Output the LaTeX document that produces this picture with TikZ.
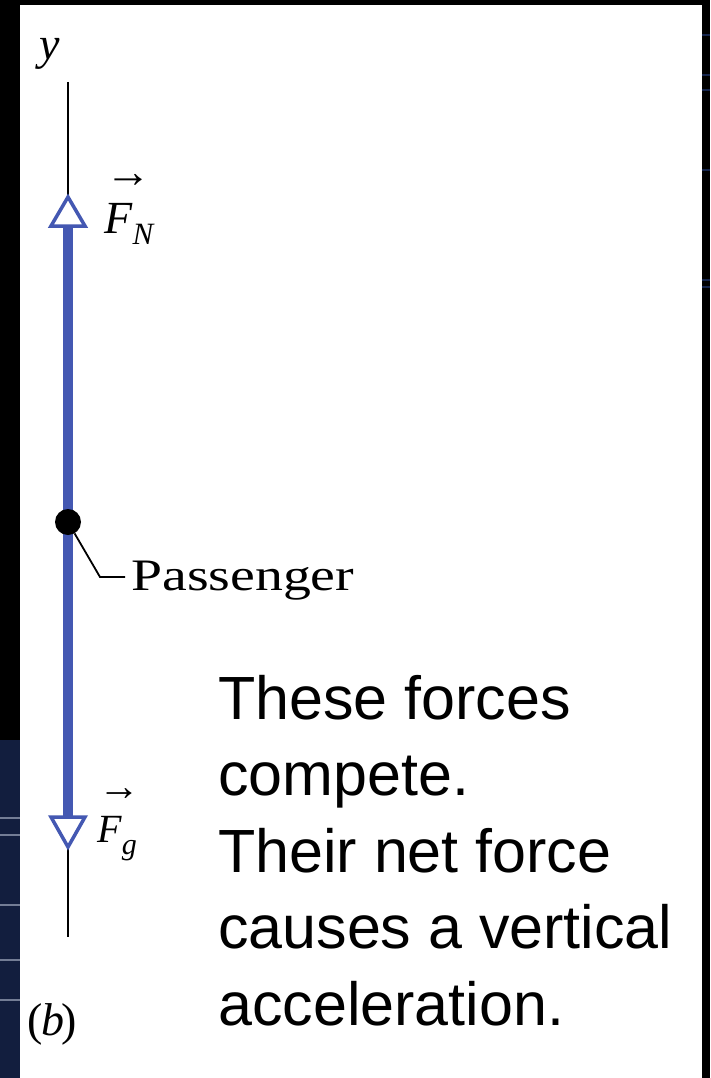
\documentclass[tikz,border=0pt]{standalone}
\usepackage{fontspec}
\setmainfont{Liberation Serif}
\newfontfamily\helv{Liberation Sans}
\definecolor{fblue}{RGB}{68,88,178}
\definecolor{navy}{RGB}{22,38,78}
\tikzset{
  axisline/.style={line width=2pt, black},
  shaft/.style={line width=10pt, fblue},
  headtri/.style={line width=3.5pt, fblue, fill=white, line join=miter},
  leader/.style={line width=1.8pt, black, line join=miter},
  serlab/.style={inner sep=0pt, font=\fontsize{45}{50}\selectfont},
  caption/.style={inner sep=0pt, align=left, font=\helv\fontsize{61}{76.5}\selectfont}
}
\begin{document}
\begin{tikzpicture}[x=1pt,y=-1pt]
\useasboundingbox (0,0) rectangle (710,1078);
% background
\fill[black] (0,0) rectangle (710,1078);
\fill[navy!80!black] (0,740) rectangle (20,1078);
\foreach \yy in {818,835,905,960,1000} \draw[navy!60!white, line width=1.2pt] (0,\yy) -- (20,\yy);
\foreach \yy in {35,75,90,170,280,287} \draw[navy, line width=1.2pt] (702,\yy) -- (710,\yy);
\fill[white] (20,5) rectangle (702,1078);

% named points
\coordinate (ytop) at (68,82);
\coordinate (napex) at (68,197);
\coordinate (nbase) at (68,226);
\coordinate (gbase) at (68,817);
\coordinate (gapex) at (68,847);
\coordinate (ybot) at (68,937);

% axis pieces
\draw[axisline] (ytop) -- (napex);
\draw[axisline] (gapex) -- (ybot);
% force shaft
\draw[shaft] (nbase) -- (gbase);
% arrowheads
\draw[headtri] (napex) -- ([xshift=-17pt]nbase) -- ([xshift=17pt]nbase) -- cycle;
\draw[headtri] (gapex) -- ([xshift=-17pt]gbase) -- ([xshift=17pt]gbase) -- cycle;

% passenger dot
\node[circle, fill=black, inner sep=0pt, minimum size=26pt] (p) at (68,522) {};
\node[serlab, anchor=base west] (plab) at (131,590) {\scalebox{1.24}[1]{Passenger}};
\coordinate (lk) at (100,577);
\draw[leader] (p.-60) -- (lk) -- ([xshift=-6pt]plab.west |- lk);

% labels
\node[inner sep=0pt, anchor=base, font=\fontsize{46}{60}\selectfont\itshape] (ylab) at (50,60) {y};
\node[serlab, anchor=base west, font=\fontsize{46}{50}\selectfont] (fn) at (104,233) {\raisebox{1.0em}[0pt][0pt]{\rlap{\kern0.02em\fontsize{46}{46}\selectfont\upshape →}}\textit{F}\raisebox{-0.26em}{\fontsize{31}{32}\selectfont\itshape N}};
\node[serlab, anchor=base west, font=\fontsize{40}{50}\selectfont] (fg) at (97,842) {\raisebox{1.05em}[0pt][0pt]{\rlap{\kern0.02em\fontsize{42}{42}\selectfont\upshape →}}\textit{F}\raisebox{-0.3em}{\fontsize{30}{32}\selectfont\itshape g}};
\node[serlab, anchor=base west, font=\fontsize{46}{50}\selectfont] (b) at (27,1035) {(\kern-0.03em\textit{b}\kern-0.06em)};

% caption
\node[caption, anchor=base west] (cap) at (218,1025) {These forces\\compete.\\Their net force\\causes a vertical\\acceleration.};
\end{tikzpicture}
\end{document}
